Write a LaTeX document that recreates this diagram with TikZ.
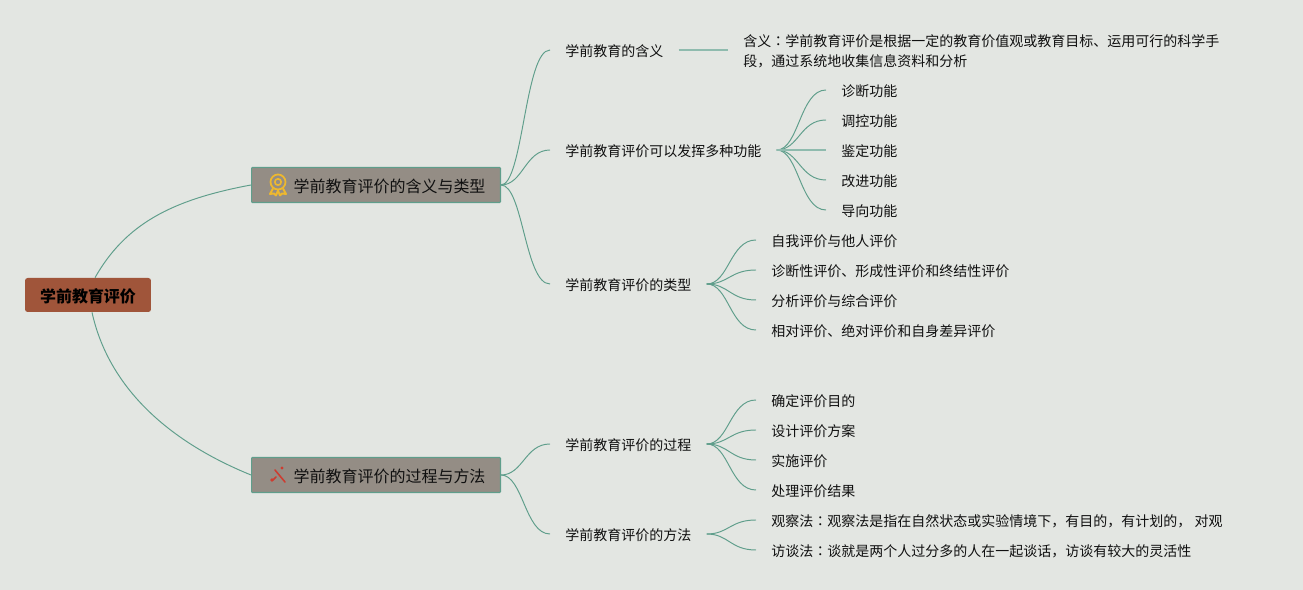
\documentclass[tikz,border=0pt]{standalone}
\usepackage{fontspec}
\usepackage{xcolor}
\usepackage{tikz}
\usetikzlibrary{
	calc,
	positioning
}
\setmainfont{Noto Sans CJK SC}
\newfontfamily\colonfont{Noto Sans CJK JP}
\newcommand{\midcolon}{{\colonfont ：}}
\definecolor{PaperGray}{RGB}{227,230,226}
\definecolor{RootBrown}{RGB}{160,85,58}
\definecolor{BranchGray}{RGB}{148,141,133}
\definecolor{LinkGreen}{RGB}{95,158,139}
\definecolor{MedalGold}{RGB}{238,184,46}
\definecolor{WandRed}{RGB}{205,60,48}
\definecolor{InkBlack}{RGB}{16,16,16}
\tikzset{
	link/.style={draw=LinkGreen, line width=0.55pt},
	straightlink/.style={draw=LinkGreen!70, line width=1pt},
	rootbox/.style={fill=RootBrown, rounded corners=1.5pt, minimum width=2.52cm, minimum height=0.68cm, inner sep=0pt, text height=8.1pt, text depth=0pt, font=\fontsize{9.1}{11}\selectfont\bfseries, text=black},
	branchbox/.style={fill=BranchGray, draw=LinkGreen, line width=0.6pt, rounded corners=0.5pt, anchor=west, text width=4.38cm, align=right, inner xsep=0.3cm, minimum height=0.7cm, inner ysep=0pt, text height=8.1pt, text depth=0pt, font=\fontsize{9.1}{11}\selectfont, text=InkBlack},
	topic/.style={anchor=west, inner xsep=0.3cm, inner ysep=0pt, text height=7.7pt, text depth=0pt, font=\fontsize{7.97}{11.34}\selectfont, text=InkBlack},
	longtopic/.style={anchor=west, inner xsep=0.3cm, inner ysep=0pt, align=left, font=\fontsize{7.97}{11.34}\selectfont, text=InkBlack},
}
\begin{document}
\begin{tikzpicture}[x=0.02cm, y=-0.02cm]
	\fill[PaperGray] (0,0) rectangle (1303,590);
	\node[rootbox] (root) at (88,295) {学前教育评价};
	\node[branchbox] (meaning) at (251,185) {学前教育评价的含义与类型};
	\node[branchbox] (process) at (251,475) {学前教育评价的过程与方法};
	\draw[link] (root.68) .. controls (125,225) and (170,200) .. (meaning.west);
	\draw[link] (root.-77) .. controls (108,385) and (165,440) .. (process.west);
	\node[topic] (define) at (550,50) {学前教育的含义};
	\node[topic] (function) at (550,150) {学前教育评价可以发挥多种功能};
	\node[topic] (kind) at (550,284) {学前教育评价的类型};
	\node[topic] (step) at (550,444) {学前教育评价的过程};
	\node[topic] (method) at (550,534) {学前教育评价的方法};
	\foreach \name in {define,function,kind}{
		\draw[link] (meaning.east) .. controls +(22,0) and +(-25,0) .. (\name.west);
	}
	\foreach \name in {step,method}{
		\draw[link] (process.east) .. controls +(22,0) and +(-25,0) .. (\name.west);
	}
	\node[longtopic] (defineText) at (728,51) {含义\midcolon 学前教育评价是根据一定的教育价值观或教育目标、运用可行的科学手\\段，通过系统地收集信息资料和分析};
	\draw[straightlink] (define.east) -- (defineText.west |- define.east);
	\foreach \name/\ypos/\word in {diagnose/90/诊断功能, regulate/120/调控功能, identify/150/鉴定功能, improve/180/改进功能, guide/210/导向功能}{
		\node[topic] (\name) at (826,\ypos) {\word};
		\draw[link] (function.east) .. controls +(22,0) and +(-26,0) .. (\name.west);
	}
	\draw[straightlink] (function.east) -- (identify.west);
	\foreach \name/\ypos/\word in {selfEval/240/自我评价与他人评价, formEval/270/诊断性评价、形成性评价和终结性评价, mixEval/300/分析评价与综合评价, relEval/330/相对评价、绝对评价和自身差异评价}{
		\node[topic] (\name) at (756,\ypos) {\word};
		\draw[link] (kind.east) .. controls +(22,0) and +(-26,0) .. (\name.west);
	}
	\foreach \name/\ypos/\word in {purpose/400/确定评价目的, plan/430/设计评价方案, carry/460/实施评价, result/490/处理评价结果}{
		\node[topic] (\name) at (756,\ypos) {\word};
		\draw[link] (step.east) .. controls +(22,0) and +(-26,0) .. (\name.west);
	}
	\foreach \name/\ypos/\word in {observe/520/观察法\midcolon 观察法是指在自然状态或实验情境下，有目的，有计划的， 对观, interview/550/访谈法\midcolon 谈就是两个人过分多的人在一起谈话，访谈有较大的灵活性}{
		\node[topic] (\name) at (756,\ypos) {\word};
		\draw[link] (method.east) .. controls +(22,0) and +(-26,0) .. (\name.west);
	}
	\begin{scope}[shift={(278,182)}]
		\draw[MedalGold, line width=1pt] (0,0) circle (7.5);
		\draw[MedalGold, line width=0.9pt] (0,0) circle (3.2);
		\draw[MedalGold, line width=1.1pt, line join=round] (-5,6.5) -- (-8,12) -- (-4,11.5) -- (-2,13.5) -- (0,8.5) -- (2,13.5) -- (4,11.5) -- (8,12) -- (5,6.5);
	\end{scope}
	\begin{scope}[shift={(278,476)}]
		\draw[WandRed, line width=0.9pt, line cap=round] (-3,-6) -- (7,6);
		\draw[WandRed, line width=0.9pt, line cap=round] (-5,4) -- (-2,1);
		\fill[WandRed] (4,-8) circle (1.6);
		\fill[WandRed] (-6,4) circle (1.8);
	\end{scope}
\end{tikzpicture}
\end{document}
